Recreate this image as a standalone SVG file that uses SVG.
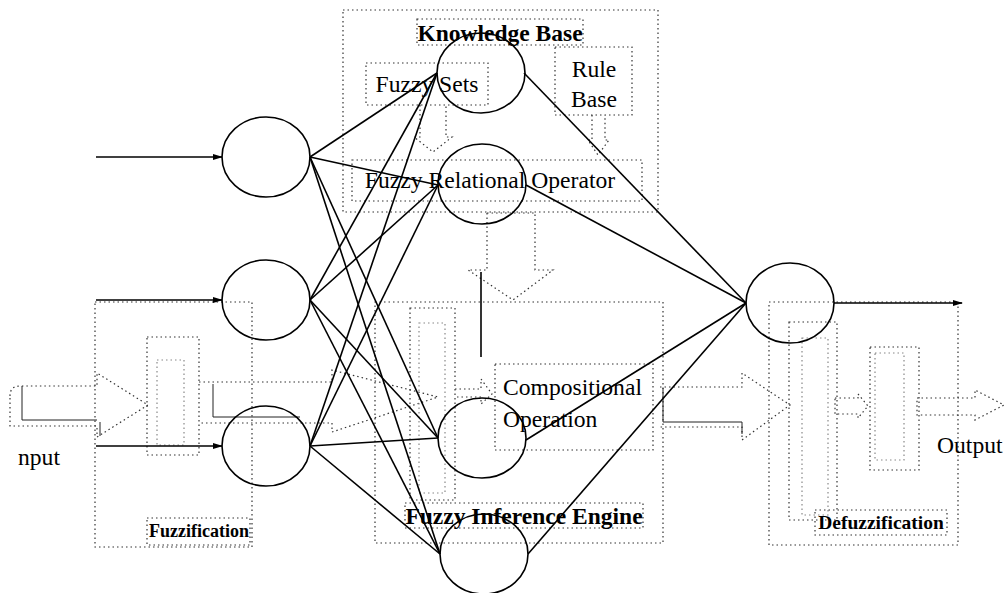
<svg xmlns="http://www.w3.org/2000/svg" width="1005" height="593" viewBox="0 0 1005 593">
  <style>
    .dot { fill: none; stroke: #333; stroke-width: 1.2; stroke-dasharray: 1.5 3; }
    .faint { fill: none; stroke: #888; stroke-width: 1.2; stroke-dasharray: 1.5 3; }
    .edge { fill: none; stroke: #222; stroke-width: 1; }
    .node { fill: none; stroke: #000; stroke-width: 1.6; }
    .wire { stroke: #000; stroke-width: 1.6; fill: none; }
    .lbl { font-family: "Liberation Serif", "Times New Roman", serif; font-size: 23.6px; fill: #000; }
    .bold { font-family: "Liberation Serif", "Times New Roman", serif; font-size: 23.5px; font-weight: bold; fill: #000; }
  </style>
  <defs>
    <marker id="head" markerWidth="10" markerHeight="8" refX="9" refY="4" orient="auto" markerUnits="userSpaceOnUse">
      <path d="M0,1 L10,4 L0,7 Z" fill="#000"/>
    </marker>
  </defs>
  <rect width="1005" height="593" fill="#fff"/>

  <!-- Knowledge base block -->
  <g id="knowledge-base">
    <rect class="dot" x="343" y="10" width="315" height="202"/>
    <rect class="dot" x="417" y="19" width="166" height="26"/>
    <text class="bold" x="500" y="41" text-anchor="middle">Knowledge Base</text>
    <rect class="dot" x="366" y="63" width="122" height="42"/>
    <text class="lbl" x="427" y="92" text-anchor="middle">Fuzzy Sets</text>
    <rect class="dot" x="555" y="47" width="77" height="68"/>
    <text class="lbl" x="594" y="77" text-anchor="middle">Rule</text>
    <text class="lbl" x="594" y="107" text-anchor="middle">Base</text>
    <path class="dot" d="M420,105 V137 H414 L433,152 L452,137 H446 V105"/>
    <path class="dot" d="M592,115 V140 H588 L598,155 L609,140 H605 V115"/>
    <rect class="dot" x="352" y="160" width="290" height="41"/>
    <text class="lbl" x="490" y="188" text-anchor="middle">Fuzzy Relational Operator</text>
  </g>

  <!-- Large arrow from relational operator down to inference engine -->
  <g id="relation-arrow">
    <path class="dot" d="M487,213 V270 H468 L513,300 L553,270 H535 V213 Z"/>
    <line class="wire" x1="481" y1="272" x2="481" y2="357"/>
  </g>

  <!-- Fuzzification block -->
  <g id="fuzzification">
    <rect class="dot" x="95" y="302" width="157" height="245"/>
    <path class="dot" d="M10,396 Q10,386 20,386 H97 V373 L148,405 L97,437 V426 H10 Z"/>
    <path class="edge" d="M22,386 V420 H97 M100,422 V436"/>
    <rect class="dot" x="147" y="337" width="52" height="118"/>
    <rect class="faint" x="157" y="360" width="27" height="85"/>
    <rect class="dot" x="147" y="518" width="103" height="27"/>
    <text class="bold" x="199" y="537" text-anchor="middle" style="font-size:18px">Fuzzification</text>
  </g>

  <!-- Arrow from fuzzification to inference engine -->
  <g id="fuzz-arrow">
    <path class="dot" d="M199,382 H332 V370 L438,397 L332,432 V423 H199"/>
    <path class="edge" d="M213,384 V417 H300"/>
  </g>

  <!-- Fuzzy inference engine block -->
  <g id="inference-engine">
    <rect class="dot" x="375" y="302" width="288" height="241"/>
    <rect class="dot" x="410" y="308" width="45" height="192"/>
    <rect class="faint" x="419" y="323" width="26" height="170"/>
    <path class="dot" d="M455,389 H481 V379 L492,394 L481,404 V397 H455"/>
    <rect class="dot" x="495" y="364" width="158" height="86"/>
    <text class="lbl" x="503" y="395">Compositional</text>
    <text class="lbl" x="503" y="427">Operation</text>
    <rect class="dot" x="405" y="503" width="238" height="25"/>
    <text class="bold" x="524" y="524" text-anchor="middle">Fuzzy Inference Engine</text>
  </g>

  <!-- Arrow from inference engine to defuzzification -->
  <g id="infer-arrow">
    <path class="dot" d="M660,387 H742 V373 L790,405 L742,440 V427 H660"/>
    <path class="edge" d="M663,388 V422 H742 V434"/>
  </g>

  <!-- Defuzzification block -->
  <g id="defuzzification">
    <rect class="dot" x="769" y="302" width="189" height="243"/>
    <rect class="dot" x="789" y="322" width="48" height="198"/>
    <rect class="faint" x="802" y="338" width="26" height="177"/>
    <path class="dot" d="M835,398 H858 V394 L868,406 L858,418 V414 H835 Z"/>
    <rect class="dot" x="870" y="347" width="49" height="123"/>
    <rect class="faint" x="875" y="353" width="29" height="107"/>
    <path class="dot" d="M917,398 H975 V390 L1004,405 L975,420 V415 H917 Z"/>
    <rect class="dot" x="815" y="510" width="132" height="25"/>
    <text class="bold" x="881" y="529" text-anchor="middle" style="font-size:19.5px">Defuzzification</text>
  </g>

  <!-- Input and output labels -->
  <g id="labels">
    <text class="lbl" x="18" y="465">nput</text>
    <text class="lbl" x="937" y="453">Output</text>
  </g>

  <!-- Network neurons -->
  <g id="in1"><ellipse class="node" cx="266" cy="157" rx="44" ry="40"/></g>
  <g id="in2"><ellipse class="node" cx="266" cy="300" rx="44" ry="40"/></g>
  <g id="in3"><ellipse class="node" cx="266" cy="446" rx="44" ry="40"/></g>
  <g id="h1"><ellipse class="node" cx="481" cy="73" rx="44" ry="40"/></g>
  <g id="h2"><ellipse class="node" cx="482" cy="184" rx="44" ry="40"/></g>
  <g id="h3"><ellipse class="node" cx="482" cy="438" rx="44" ry="40"/></g>
  <g id="h4"><ellipse class="node" cx="484" cy="554" rx="44" ry="40"/></g>
  <g id="out"><ellipse class="node" cx="790" cy="303" rx="44" ry="40"/></g>

  <!-- Connectors -->
  <g id="connectors" class="wire">
    <line x1="96" y1="157" x2="222" y2="157" marker-end="url(#head)"/>
    <line x1="96" y1="300" x2="222" y2="300" marker-end="url(#head)"/>
    <line x1="96" y1="446" x2="222" y2="446" marker-end="url(#head)"/>

    <line x1="310" y1="157" x2="437" y2="73"/>
    <line x1="310" y1="157" x2="438" y2="185"/>
    <line x1="310" y1="157" x2="438" y2="438"/>
    <line x1="310" y1="157" x2="440" y2="554"/>
    <line x1="310" y1="300" x2="437" y2="73"/>
    <line x1="310" y1="300" x2="438" y2="185"/>
    <line x1="310" y1="300" x2="438" y2="438"/>
    <line x1="310" y1="300" x2="440" y2="554"/>
    <line x1="310" y1="446" x2="437" y2="73"/>
    <line x1="310" y1="446" x2="438" y2="185"/>
    <line x1="310" y1="446" x2="438" y2="438"/>
    <line x1="310" y1="446" x2="440" y2="554"/>

    <line x1="524" y1="73" x2="746" y2="303"/>
    <line x1="526" y1="185" x2="746" y2="303"/>
    <line x1="526" y1="440" x2="746" y2="303"/>
    <line x1="528" y1="554" x2="746" y2="303"/>

    <line x1="834" y1="303" x2="962" y2="303" marker-end="url(#head)"/>
  </g>
</svg>
